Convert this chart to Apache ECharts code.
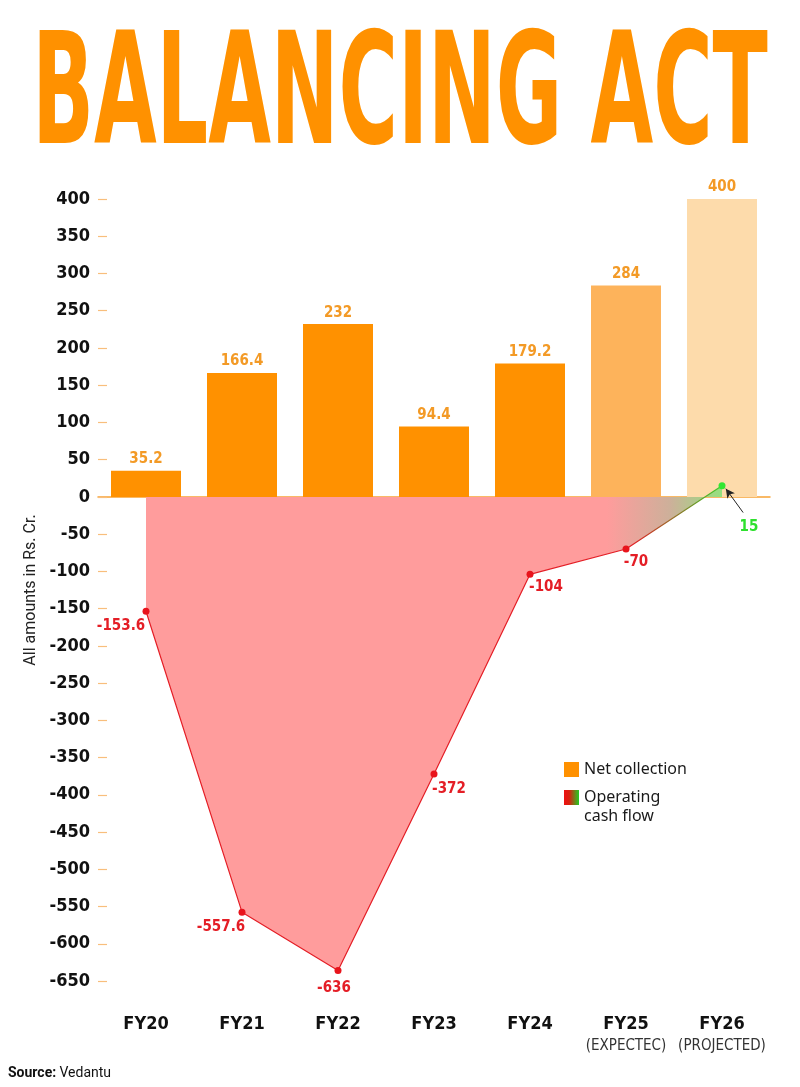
<!DOCTYPE html>
<html>
<head>
<meta charset="utf-8">
<style>
  html, body { margin: 0; padding: 0; background: #ffffff; }
  #chart { width: 800px; height: 1087px; }
</style>
<script src="https://cdn.jsdelivr.net/npm/echarts@6/dist/echarts.min.js"></script>
</head>
<body>
<div id="chart"></div>
<script>
// ---- data ----
var categories = ['FY20', 'FY21', 'FY22', 'FY23', 'FY24', 'FY25', 'FY26'];
var categorySubLabels = ['', '', '', '', '', '(EXPECTEC)', '(PROJECTED)'];
var netCollection = [35.2, 166.4, 232, 94.4, 179.2, 284, 400];
var operatingCashFlow = [-153.6, -557.6, -636, -372, -104, -70, 15];
var yTickMin = -650;
var yTickMax = 400;
var yTickStep = 50;
var arrowFrom = [6.22, -21];
var arrowTo = [6.04, 11];

// ---- styles ----
var NARROW = '"DejaVu Sans Condensed", "DejaVu Sans", sans-serif';
var ORANGE = '#FF9100';
var barColors = [ORANGE, ORANGE, ORANGE, ORANGE, ORANGE, '#FDB35B', '#FDDBAB'];
var lineLabelOffsets = [[-25, 15], [-21, 15], [-4, 18], [15, 15], [16, 13], [10, 13], [27, 41]];

var chart = echarts.init(document.getElementById('chart'), null, { renderer: 'canvas' });

var barData = netCollection.map(function (v, i) {
  return { value: v, itemStyle: { color: barColors[i] } };
});
var lineData = operatingCashFlow.map(function (v, i) {
  var last = i === operatingCashFlow.length - 1;
  return {
    value: v,
    itemStyle: { color: last ? '#33E633' : '#E8141C' },
    label: {
      offset: lineLabelOffsets[i],
      color: last ? '#2EE02E' : '#E41E26'
    }
  };
});

var legendText = { fontFamily: '"Noto Sans", sans-serif', fontSize: 16, color: '#1a1a1a', lineHeight: 19 };

var option = {
  backgroundColor: '#ffffff',
  animation: false,
  grid: { left: 98, right: 30, top: 199, bottom: 106, containLabel: false },
  legend: [
    {
      orient: 'vertical', left: 564, top: 760, padding: 0,
      icon: 'rect', itemWidth: 15, itemHeight: 15,
      selectedMode: false,
      textStyle: legendText,
      data: [{ name: 'Net collection', itemStyle: { color: ORANGE } }]
    },
    {
      orient: 'vertical', left: 564, top: 769, padding: 0,
      icon: 'rect', itemWidth: 15, itemHeight: 15,
      selectedMode: false,
      formatter: function () { return ' \nOperating\ncash flow'; },
      textStyle: legendText,
      data: [{
        name: 'Operating cash flow',
        itemStyle: {
          color: new echarts.graphic.LinearGradient(0, 0, 1, 0, [
            { offset: 0, color: '#EE1111' },
            { offset: 0.35, color: '#D8200F' },
            { offset: 1, color: '#22CC22' }
          ])
        }
      }]
    }
  ],
  xAxis: [
    {
      type: 'category',
      data: categories,
      position: 'bottom',
      boundaryGap: true,
      axisLine: { show: false, onZero: false },
      axisTick: { show: false },
      axisLabel: {
        interval: 0,
        margin: 32,
        formatter: function (val, idx) {
          var sub = categorySubLabels[idx];
          return sub ? '{a|' + val + '}\n{b|' + sub + '}' : '{a|' + val + '}';
        },
        rich: {
          a: { fontFamily: NARROW, fontWeight: 'bold', fontSize: 18, color: '#111111', lineHeight: 22 },
          b: { fontFamily: NARROW, fontWeight: 'normal', fontSize: 15, color: '#333333', lineHeight: 22 }
        }
      }
    },
    {
      type: 'category',
      data: categories,
      position: 'top',
      boundaryGap: true,
      axisLine: { show: true, onZero: true, lineStyle: { color: '#F7A235', width: 1.5 } },
      axisTick: { show: false },
      axisLabel: { show: false }
    },
    {
      type: 'value',
      min: -0.5, max: 6.5,
      show: false,
      axisLine: { onZero: false }
    }
  ],
  yAxis: {
    type: 'value',
    min: yTickMin, max: yTickMax, interval: yTickStep,
    name: 'All amounts in Rs. Cr.',
    nameLocation: 'middle',
    nameGap: 51,
    nameRotate: 90,
    nameTextStyle: { fontFamily: 'Roboto, sans-serif', fontSize: 16, color: '#222222' },
    axisLine: { show: false, onZero: false },
    axisTick: { show: true, inside: true, length: 9, lineStyle: { color: '#F8BE7C', width: 1.2 } },
    splitLine: { show: false },
    axisLabel: {
      margin: 8,
      fontFamily: NARROW, fontWeight: 'bold', fontSize: 18, color: '#111111'
    }
  },
  series: [
    {
      name: 'Net collection',
      type: 'bar',
      xAxisIndex: 0,
      data: barData,
      barWidth: 70,
      itemStyle: { color: ORANGE },
      label: {
        show: true, position: 'top', distance: 4,
        fontFamily: NARROW, fontWeight: 'bold', fontSize: 15, color: '#F39A26'
      },
      z: 2
    },
    {
      name: 'Operating cash flow',
      type: 'line',
      xAxisIndex: 0,
      data: lineData,
      symbol: 'circle',
      symbolSize: 7,
      lineStyle: {
        width: 1.2,
        color: new echarts.graphic.LinearGradient(0, 0, 1, 0, [
          { offset: 0, color: '#E41E26' },
          { offset: 0.84, color: '#E41E26' },
          { offset: 1, color: '#36D22A' }
        ])
      },
      areaStyle: {
        opacity: 1,
        color: new echarts.graphic.LinearGradient(0, 0, 1, 0, [
          { offset: 0, color: '#FF9C9C' },
          { offset: 0.8, color: '#FF9C9C' },
          { offset: 0.91, color: '#CDB09A' },
          { offset: 1, color: '#94E07E' }
        ])
      },
      label: {
        show: true, position: 'inside',
        fontFamily: NARROW, fontWeight: 'bold', fontSize: 15
      },
      z: 3
    },
    {
      name: 'arrow',
      type: 'line',
      xAxisIndex: 2,
      data: [],
      silent: true,
      markLine: {
        silent: true,
        symbol: ['none', 'arrow'],
        symbolSize: [7, 9],
        label: { show: false },
        lineStyle: { color: '#222222', width: 1, type: 'solid' },
        data: [[{ coord: arrowFrom }, { coord: arrowTo }]]
      },
      z: 4
    }
  ],
  graphic: [
    {
      type: 'text',
      x: 400, y: 103,
      scaleX: 0.9,
      scaleY: 1.55,
      style: {
        text: 'BALANCING ACT',
        font: 'bold 100px ' + NARROW,
        fill: ORANGE,
        align: 'center',
        verticalAlign: 'middle'
      }
    },
    {
      type: 'text',
      left: 8, top: 1066,
      style: {
        rich: {
          s: { fontFamily: 'Roboto, sans-serif', fontWeight: 'bold', fontSize: 14, fill: '#111111' },
          v: { fontFamily: 'Roboto, sans-serif', fontWeight: 'normal', fontSize: 14, fill: '#111111' }
        },
        text: '{s|Source:} {v|Vedantu}'
      }
    }
  ]
};

chart.setOption(option);
</script>
</body>
</html>
